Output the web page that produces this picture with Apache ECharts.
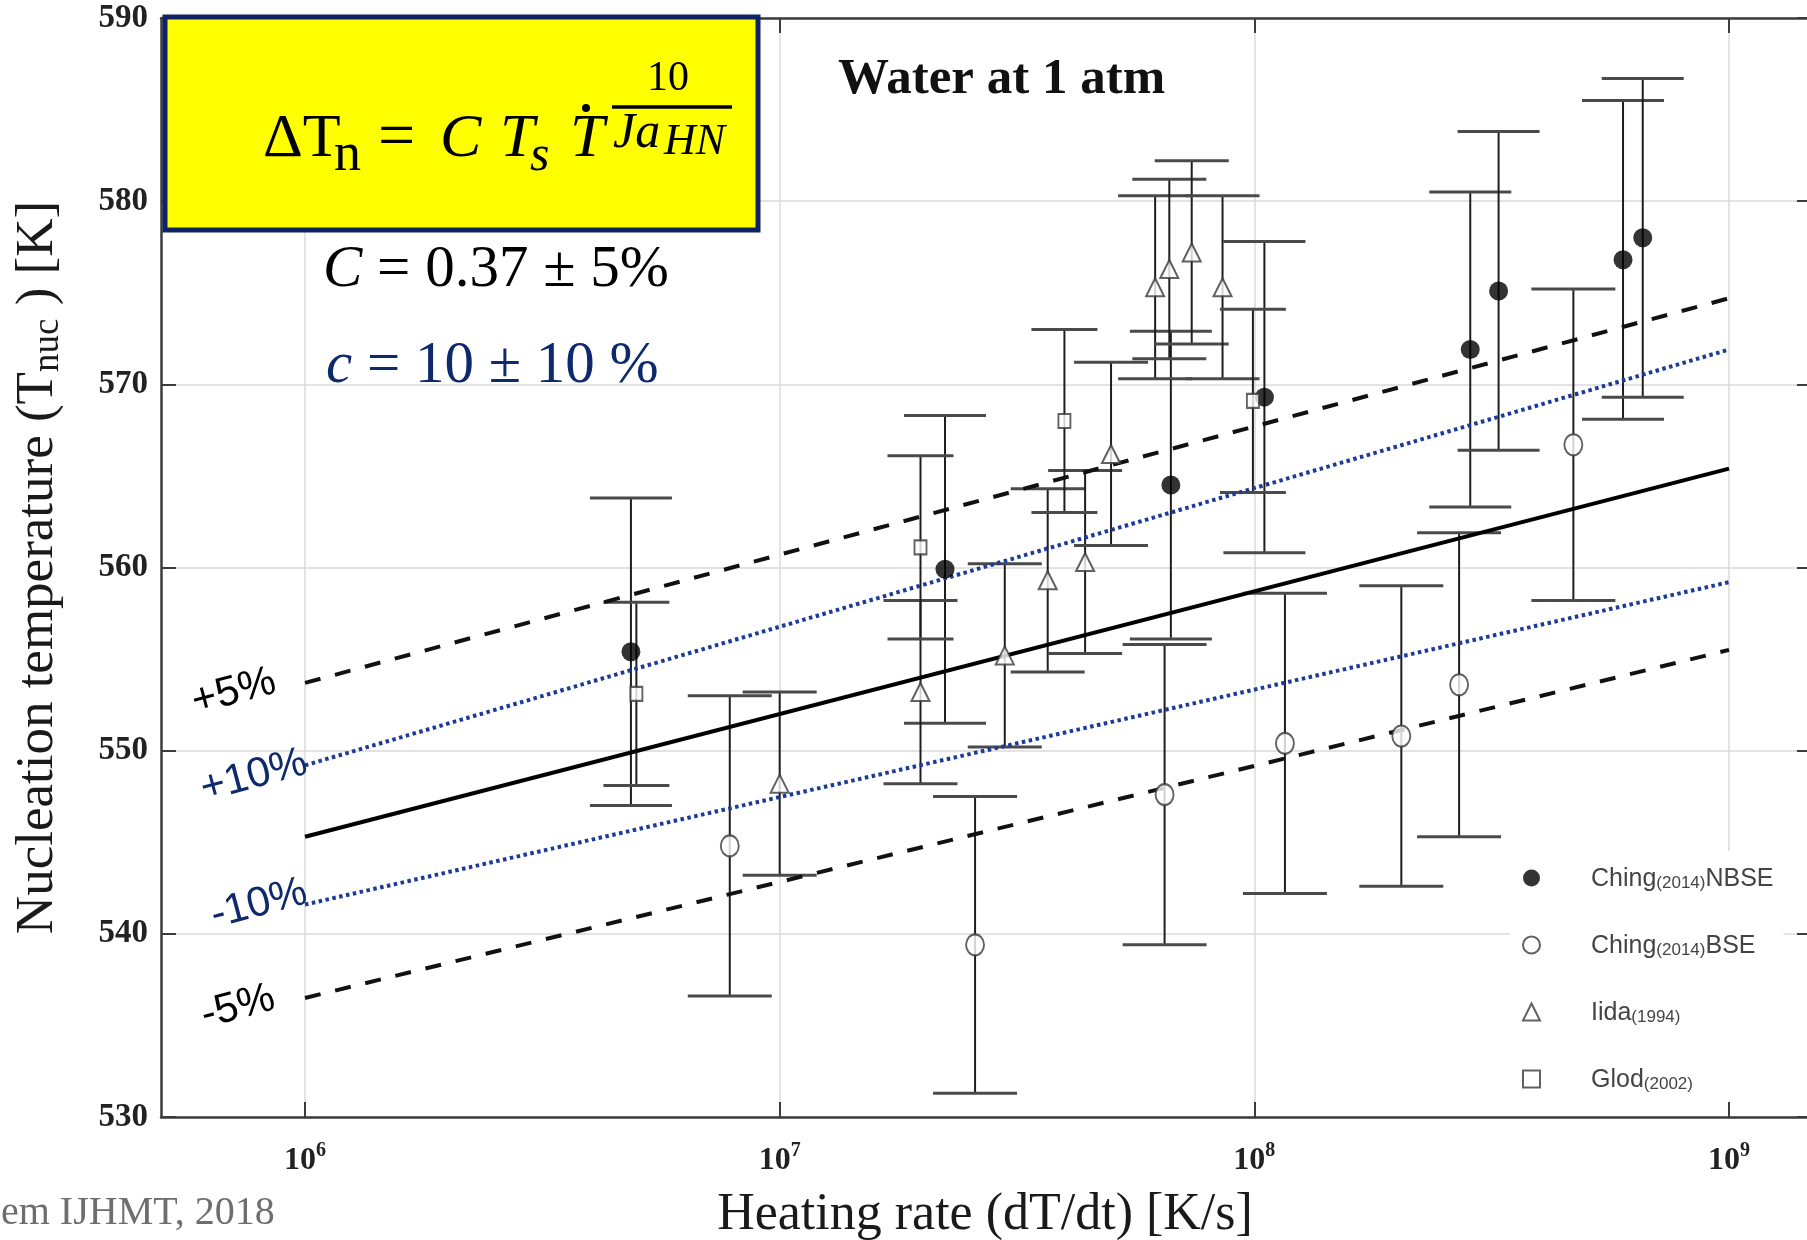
<!DOCTYPE html>
<html>
<head>
<meta charset="utf-8">
<title>Nucleation temperature vs heating rate</title>
<script src="https://cdn.jsdelivr.net/npm/echarts@6/dist/echarts.min.js"></script>
<style>
    html, body { margin: 0; padding: 0; background: #fff; }
    #chart { width: 1807px; height: 1240px; }
</style>
</head>
<body>
<div id="chart"></div>
<script>
// Ching (2014) NBSE - filled circles
var nbseRate = [4.86e6, 2.23e7, 6.67e7, 1.05e8, 2.85e8, 3.27e8, 5.98e8, 6.58e8];
var nbseTemp = [555.4, 559.9, 564.5, 569.3, 571.9, 575.1, 576.8, 578.0];
var nbseErr = [8.4, 8.4, 8.4, 8.5, 8.6, 8.7, 8.7, 8.7];

// Ching (2014) BSE - open circles
var bseRate = [7.85e6, 2.58e7, 6.47e7, 1.16e8, 2.04e8, 2.70e8, 4.70e8];
var bseTemp = [544.8, 539.4, 547.6, 550.4, 550.8, 553.6, 566.7];
var bseErr = [8.2, 8.1, 8.2, 8.2, 8.2, 8.3, 8.5];

// Iida (1994) - triangles
var iidaRate = [1.0e7, 1.98e7, 2.98e7, 3.67e7, 4.40e7, 4.99e7, 6.18e7, 6.62e7, 7.38e7, 8.57e7];
var iidaTemp = [548.2, 553.2, 555.2, 559.3, 560.3, 566.2, 575.3, 576.3, 577.2, 575.3];
var iidaErr = [5, 5, 5, 5, 5, 5, 5, 4.9, 5, 5];

// Glod (2002) - squares
var glodRate = [4.99e6, 1.98e7, 3.98e7, 9.93e7];
var glodTemp = [553.1, 561.1, 568.0, 569.1];
var glodErr = [5, 5, 5, 5];

// correlation and its bands
var bandRate = [1e6, 1e9];
var fitTemp = [545.3, 565.4];
var plus5Temp = [553.7, 574.7];
var minus5Temp = [536.5, 555.5];
var plus10Temp = [549.2, 571.9];
var minus10Temp = [541.6, 559.2];

var rateTickExp = [6, 7, 8, 9];
var rateMin = 4.973e5, rateMax = 1.474e9;
var tempMin = 530, tempMax = 590, tempStep = 10;

var serif = 'Liberation Serif';
var sans = 'Liberation Sans';
var navy = '#0e2a6c';

function toPoints(rates, temps, errs) {
    var out = [];
    for (var i = 0; i < rates.length; i++) {
        out.push([Math.log10(rates[i]), temps[i], errs ? errs[i] : 0]);
    }
    return out;
}

function errorBars(data, capWidth) {
    return {
        type: 'custom',
        name: 'err',
        data: data,
        z: 2,
        silent: true,
        encode: { x: 0, y: 1 },
        renderItem: function (params, api) {
            var x = api.value(0), t = api.value(1), e = api.value(2);
            var top = api.coord([x, t + e]);
            var bot = api.coord([x, t - e]);
            var h = capWidth / 2;
            return {
                type: 'group',
                children: [{
                    type: 'line',
                    shape: { x1: top[0], y1: top[1], x2: bot[0], y2: bot[1] },
                    style: { stroke: '#1e1e1e', lineWidth: 2 }
                }, {
                    type: 'line',
                    shape: { x1: top[0] - h, y1: top[1], x2: top[0] + h, y2: top[1] },
                    style: { stroke: '#4a4a4a', lineWidth: 3 }
                }, {
                    type: 'line',
                    shape: { x1: bot[0] - h, y1: bot[1], x2: bot[0] + h, y2: bot[1] },
                    style: { stroke: '#4a4a4a', lineWidth: 3 }
                }]
            };
        }
    };
}

function bandLine(temps, color, width, dash) {
    return {
        type: 'line',
        data: toPoints(bandRate, temps),
        symbol: 'none',
        silent: true,
        z: 3,
        lineStyle: { color: color, width: width, type: dash, cap: 'butt' }
    };
}

function txt(x, y, text, font, color, rot) {
    return {
        type: 'text', x: x, y: y, rotation: rot || 0, z: 30,
        style: { text: text, font: font, fill: color, align: 'left', verticalAlign: 'middle' }
    };
}

var nbsePts = toPoints(nbseRate, nbseTemp, nbseErr);
var bsePts = toPoints(bseRate, bseTemp, bseErr);
var iidaPts = toPoints(iidaRate, iidaTemp, iidaErr);
var glodPts = toPoints(glodRate, glodTemp, glodErr);

var axisColor = '#3c3c3c';
var rot = 15 * Math.PI / 180;

var option = {
    animation: false,
    backgroundColor: '#fff',
    grid: { left: 161, right: -2, top: 18, bottom: 123, outerBoundsMode: 'none' },
    xAxis: [{
        type: 'value',
        min: Math.log10(rateMin),
        max: Math.log10(rateMax),
        position: 'bottom',
        name: 'Heating rate (dT/dt) [K/s]',
        nameLocation: 'middle',
        nameGap: 72,
        nameTextStyle: { fontFamily: serif, fontSize: 52, color: '#1a1a1a' },
        axisLine: { lineStyle: { color: axisColor, width: 2.5 } },
        axisTick: { inside: true, length: 15, customValues: rateTickExp, lineStyle: { color: axisColor, width: 2 } },
        axisLabel: {
            customValues: rateTickExp,
            margin: 24,
            formatter: function (v) {
                return '{b|10}{s|' + v + '}';
            },
            rich: {
                b: { fontFamily: serif, fontWeight: 'bold', fontSize: 32, lineHeight: 36, color: '#222', verticalAlign: 'bottom' },
                s: { fontFamily: serif, fontWeight: 'bold', fontSize: 20, lineHeight: 18, color: '#222', verticalAlign: 'top' }
            }
        },
        splitLine: { show: true, lineStyle: { color: '#dadada', width: 1.5 } }
    }, {
        type: 'value',
        min: Math.log10(rateMin),
        max: Math.log10(rateMax),
        position: 'top',
        axisLine: { lineStyle: { color: axisColor, width: 2.5 } },
        axisTick: { inside: true, length: 15, customValues: rateTickExp, lineStyle: { color: axisColor, width: 2 } },
        axisLabel: { show: false },
        splitLine: { show: false }
    }],
    yAxis: [{
        type: 'value',
        min: tempMin,
        max: tempMax,
        interval: tempStep,
        name: 'Nucleation temperature (T{s|nuc} ) [K]',
        nameLocation: 'middle',
        nameGap: 94,
        nameTextStyle: {
            fontFamily: serif, fontSize: 53, color: '#1a1a1a', lineHeight: 58,
            rich: {
                s: { fontFamily: serif, fontSize: 37, color: '#1a1a1a', lineHeight: 30, verticalAlign: 'bottom' }
            }
        },
        axisLine: { lineStyle: { color: axisColor, width: 2.5 } },
        axisTick: { inside: true, length: 15, lineStyle: { color: axisColor, width: 2 } },
        axisLabel: { fontFamily: serif, fontWeight: 'bold', fontSize: 33, color: '#222', margin: 13 },
        splitLine: { show: true, lineStyle: { color: '#dadada', width: 1.5 } }
    }, {
        type: 'value',
        min: tempMin,
        max: tempMax,
        interval: tempStep,
        position: 'right',
        axisLine: { show: false },
        axisTick: { show: true, inside: true, length: 12, lineStyle: { color: axisColor, width: 2 } },
        axisLabel: { show: false },
        splitLine: { show: false }
    }],
    legend: {
        orient: 'vertical',
        left: 1510,
        top: 851,
        selectedMode: false,
        backgroundColor: '#fff',
        padding: [16, 10, 8, 12],
        itemWidth: 17,
        itemHeight: 17,
        itemGap: 42,
        data: [
            { name: 'Ching(2014)NBSE', icon: 'circle' },
            { name: 'Ching(2014)BSE', icon: 'emptyCircle' },
            { name: 'Iida(1994)', icon: 'emptyTriangle' },
            { name: 'Glod(2002)', icon: 'emptyRect' }
        ],
        formatter: function (name) {
            var m = name.match(/^([A-Za-z]+)(\(\d+\))([A-Za-z]*)$/);
            var s = '{f|' + m[1] + '}{y|' + m[2] + '}';
            if (m[3]) {
                s += '{a|' + m[3] + '}';
            }
            return s;
        },
        textStyle: {
            fontFamily: sans, fontSize: 25, color: '#444',
            rich: {
                f: { fontFamily: sans, fontSize: 25, color: '#444', lineHeight: 28, padding: [0, 0, 0, 46], verticalAlign: 'bottom' },
                y: { fontFamily: sans, fontSize: 17, color: '#444', lineHeight: 20, verticalAlign: 'bottom' },
                a: { fontFamily: sans, fontSize: 25, color: '#444', lineHeight: 28, verticalAlign: 'bottom' }
            }
        }
    },
    series: [
        errorBars(nbsePts, 82),
        errorBars(bsePts, 84),
        errorBars(iidaPts, 74),
        errorBars(glodPts, 66),
        bandLine(fitTemp, '#000', 4, 'solid'),
        bandLine(plus5Temp, '#111', 4, [16, 15]),
        bandLine(minus5Temp, '#111', 4, [16, 15]),
        bandLine(plus10Temp, '#1c3a98', 4, [3.5, 3.5]),
        bandLine(minus10Temp, '#1c3a98', 4, [3.5, 3.5]),
        {
            type: 'scatter', name: 'Ching(2014)NBSE', data: nbsePts, z: 5,
            symbol: 'circle', symbolSize: 19, itemStyle: { color: '#000' }
        }, {
            type: 'scatter', name: 'Ching(2014)BSE', data: bsePts, z: 5,
            symbol: 'emptyCircle', symbolSize: [18, 21], itemStyle: { color: '#3a3a3a', borderWidth: 1.6 }
        }, {
            type: 'scatter', name: 'Iida(1994)', data: iidaPts, z: 5,
            symbol: 'emptyTriangle', symbolSize: [18, 18], itemStyle: { color: '#3a3a3a', borderWidth: 1.6 }
        }, {
            type: 'scatter', name: 'Glod(2002)', data: glodPts, z: 5,
            symbol: 'emptyRect', symbolSize: [12, 14], itemStyle: { color: '#3a3a3a', borderWidth: 1.6 }
        }
    ],
    graphic: [
        {
            type: 'rect', z: 20,
            shape: { x: 165, y: 17, width: 593, height: 213 },
            style: { fill: '#ffff00', stroke: '#0f2263', lineWidth: 5 }
        },
        txt(263, 140, 'ΔT', '62px ' + serif, '#000'),
        txt(334, 156, 'n', '54px ' + serif, '#000'),
        txt(378, 140, '=', '66px ' + serif, '#000'),
        txt(440, 140, 'C', 'italic 62px ' + serif, '#000'),
        txt(500, 140, 'T', 'italic 62px ' + serif, '#000'),
        txt(530, 157, 's', 'italic 50px ' + serif, '#000'),
        txt(570, 140, 'T', 'italic 62px ' + serif, '#000'),
        {
            type: 'circle', z: 30,
            shape: { cx: 586, cy: 108, r: 4 },
            style: { fill: '#000' }
        },
        txt(647, 79, '10', '42px ' + serif, '#000'),
        {
            type: 'line', z: 30,
            shape: { x1: 612, y1: 107, x2: 732, y2: 107 },
            style: { stroke: '#000', lineWidth: 3.5 }
        },
        txt(613, 134, 'Ja', 'italic 50px ' + serif, '#000'),
        txt(664, 142, 'HN', 'italic 44px ' + serif, '#000'),
        {
            type: 'text', x: 323, y: 270, z: 30,
            style: {
                text: '{i|C}{r| = 0.37 ± 5%}', verticalAlign: 'middle',
                rich: {
                    i: { font: 'italic 59px ' + serif, fill: '#000' },
                    r: { font: '59px ' + serif, fill: '#000' }
                }
            }
        },
        {
            type: 'text', x: 326, y: 366, z: 30,
            style: {
                text: '{i|c}{r| = 10 ± 10 %}', verticalAlign: 'middle',
                rich: {
                    i: { font: 'italic 59px ' + serif, fill: navy },
                    r: { font: '59px ' + serif, fill: navy }
                }
            }
        },
        txt(838, 80, 'Water at 1 atm', 'bold 51px ' + serif, '#111'),
        {
            type: 'text', x: 234, y: 692, rotation: rot, z: 30,
            style: { text: '+5%', font: '42px ' + sans, fill: '#000', align: 'center', verticalAlign: 'middle' }
        },
        {
            type: 'text', x: 254, y: 776, rotation: rot, z: 30,
            style: { text: '+10%', font: '42px ' + sans, fill: navy, align: 'center', verticalAlign: 'middle' }
        },
        {
            type: 'text', x: 259, y: 904, rotation: rot, z: 30,
            style: { text: '-10%', font: '42px ' + sans, fill: navy, align: 'center', verticalAlign: 'middle' }
        },
        {
            type: 'text', x: 238, y: 1007, rotation: rot, z: 30,
            style: { text: '-5%', font: '42px ' + sans, fill: '#000', align: 'center', verticalAlign: 'middle' }
        },
        txt(1, 1213, 'em IJHMT, 2018', '40px ' + serif, '#6e6e6e')
    ]
};

var chart = echarts.init(document.getElementById('chart'));
chart.setOption(option);
</script>
</body>
</html>
